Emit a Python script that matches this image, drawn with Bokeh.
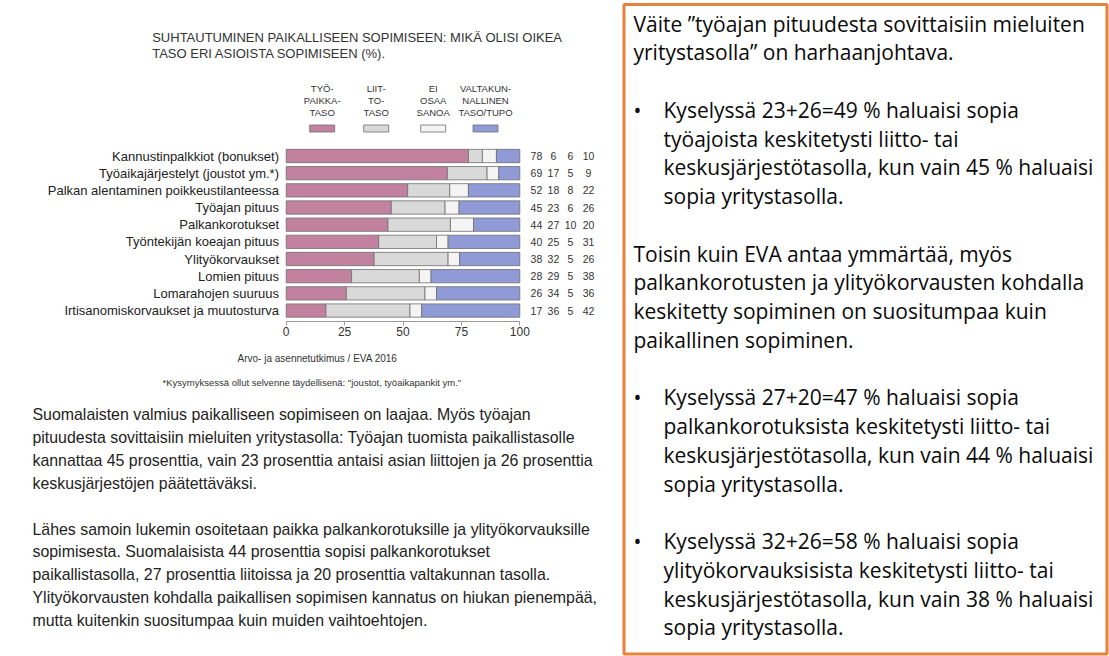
from bokeh.plotting import figure
from bokeh.models import Range1d, FixedTicker, LinearAxis, BoxAnnotation, ColumnDataSource
from bokeh.embed import file_html
from bokeh.resources import INLINE
from bokeh.core.properties import value

# ---------------- data ----------------
categories = [
    "Kannustinpalkkiot (bonukset)",
    "Työaikajärjestelyt (joustot ym.*)",
    "Palkan alentaminen poikkeustilanteessa",
    "Työajan pituus",
    "Palkankorotukset",
    "Työntekijän koeajan pituus",
    "Ylityökorvaukset",
    "Lomien pituus",
    "Lomarahojen suuruus",
    "Irtisanomiskorvaukset ja muutosturva",
]
tyopaikka = [78, 69, 52, 45, 44, 40, 38, 28, 26, 17]
liitto = [6, 17, 18, 23, 27, 25, 32, 29, 34, 36]
ei_osaa = [6, 5, 8, 6, 10, 5, 5, 5, 5, 5]
valtakunnallinen = [10, 9, 22, 26, 20, 31, 26, 38, 36, 42]

series_names = ["tyopaikka", "liitto", "ei_osaa", "valtakunnallinen"]
series_values = [tyopaikka, liitto, ei_osaa, valtakunnallinen]
legend_labels = [
    ["TYÖ-", "PAIKKA-", "TASO"],
    ["LIIT-", "TO-", "TASO"],
    ["EI", "OSAA", "SANOA"],
    ["VALTAKUN-", "NALLINEN", "TASO/TUPO"],
]
x_ticks = [0, 25, 50, 75, 100]

title_lines = [
    "SUHTAUTUMINEN PAIKALLISEEN SOPIMISEEN: MIKÄ OLISI OIKEA",
    "TASO ERI ASIOISTA SOPIMISEEN (%).",
]
source_text = "Arvo- ja asennetutkimus / EVA 2016"
footnote_text = '*Kysymyksessä ollut selvenne täydellisenä: "joustot, työaikapankit ym."'
paragraph_lines = [
    "Suomalaisten valmius paikalliseen sopimiseen on laajaa. Myös työajan",
    "pituudesta sovittaisiin mieluiten yritystasolla: Työajan tuomista paikallistasolle",
    "kannattaa 45 prosenttia, vain 23 prosenttia antaisi asian liittojen ja 26 prosenttia",
    "keskusjärjestöjen päätettäväksi.",
    None,
    "Lähes samoin lukemin osoitetaan paikka palkankorotuksille ja ylityökorvauksille",
    "sopimisesta. Suomalaisista 44 prosenttia sopisi palkankorotukset",
    "paikallistasolla, 27 prosenttia liitoissa ja 20 prosenttia valtakunnan tasolla.",
    "Ylityökorvausten kohdalla paikallisen sopimisen kannatus on hiukan pienempää,",
    "mutta kuitenkin suositumpaa kuin muiden vaihtoehtojen.",
]
# (kind, text): 0 = plain, 1 = bullet start, 2 = bullet continuation, None = blank
box_lines = [
    (0, "Väite \u201dtyöajan pituudesta sovittaisiin mieluiten"),
    (0, "yritystasolla\u201d on harhaanjohtava."),
    (None, ""),
    (1, "Kyselyssä 23+26=49 % haluaisi sopia"),
    (2, "työajoista keskitetysti liitto- tai"),
    (2, "keskusjärjestötasolla, kun vain 45 % haluaisi"),
    (2, "sopia yritystasolla."),
    (None, ""),
    (0, "Toisin kuin EVA antaa ymmärtää, myös"),
    (0, "palkankorotusten ja ylityökorvausten kohdalla"),
    (0, "keskitetty sopiminen on suositumpaa kuin"),
    (0, "paikallinen sopiminen."),
    (None, ""),
    (1, "Kyselyssä 27+20=47 % haluaisi sopia"),
    (2, "palkankorotuksista keskitetysti liitto- tai"),
    (2, "keskusjärjestötasolla, kun vain 44 % haluaisi"),
    (2, "sopia yritystasolla."),
    (None, ""),
    (1, "Kyselyssä 32+26=58 % haluaisi sopia"),
    (2, "ylityökorvauksisista keskitetysti liitto- tai"),
    (2, "keskusjärjestötasolla, kun vain 38 % haluaisi"),
    (2, "sopia yritystasolla."),
]

# ---------------- styles / layout ----------------
colors = ["#C2819F", "#D9D9D9", "#F4F4F4", "#8F9AD6"]
FONT = "Liberation Sans"
TXT = "#222222"
ORANGE = "#E8823A"
W, H = 1109, 656

PX0, PXU = 285.7, 2.336      # pixel of 0 % and pixels per percent
ROW0, ROWH = 155.5, 17.17    # pixel of first row centre and row pitch

totals = [sum(v[i] for v in series_values) for i in range(len(categories))]
data = {"cat": categories, "row": list(range(len(categories)))}
for name, vals in zip(series_names, series_values):
    data[name] = [v / t * 100 for v, t in zip(vals, totals)]
    data[name + "_txt"] = [str(v) for v in vals]
src = ColumnDataSource(data)

p = figure(width=W, height=H, x_range=Range1d(0, W), y_range=Range1d(H, 0),
           x_axis_location=None, y_axis_location=None,
           output_backend="svg", toolbar_location=None, min_border=0)
p.outline_line_color = None
p.grid.visible = False
p.background_fill_color = "white"
p.border_fill_color = "white"

p.extra_x_ranges = {"pct": Range1d(-PX0 / PXU, (W - PX0) / PXU)}
p.extra_y_ranges = {"row": Range1d((H - ROW0) / ROWH, -ROW0 / ROWH)}

p.hbar_stack(series_names, y="row", height=0.775, fill_color=colors,
             line_color="#6E6E6E", line_width=0.8, source=src,
             x_range_name="pct", y_range_name="row")

num_x = [107.1, 114.4, 121.7, 129.4]
for i, name in enumerate(series_names):
    p.text(x=num_x[i], y="row", text=name + "_txt", source=src,
           x_range_name="pct", y_range_name="row",
           text_align="center", text_baseline="middle",
           text_font=value(FONT), text_font_size="10.5px", text_color="#333333")

xa = LinearAxis(x_range_name="pct", fixed_location=321,
                ticker=FixedTicker(ticks=x_ticks), bounds=(0, 100))
xa.axis_line_color = "#9A9A9A"
xa.major_tick_line_color = "#9A9A9A"
xa.minor_tick_line_color = None
xa.major_tick_in = 0
xa.major_tick_out = 4
xa.major_label_standoff = 1
xa.major_label_text_font = FONT
xa.major_label_text_font_size = "12px"
xa.major_label_text_color = "#333333"
p.add_layout(xa, "below")

ya = LinearAxis(y_range_name="row", fixed_location=282.5,
                ticker=FixedTicker(ticks=data["row"]),
                major_label_overrides={i: c for i, c in enumerate(categories)})
ya.axis_line_color = None
ya.major_tick_line_color = None
ya.minor_tick_line_color = None
ya.major_tick_in = 0
ya.major_tick_out = 0
ya.major_label_standoff = 4
ya.major_label_text_font = FONT
ya.major_label_text_font_size = "13px"
ya.major_label_text_color = TXT
p.add_layout(ya, "left")


def txt(x, y, t, size, font=FONT, color=TXT, align="left"):
    p.text(x=[x], y=[y], text=[t], text_font=value(font), text_font_size=f"{size}px",
           text_color=color, text_align=align, text_baseline="middle")


txt(151.7, 36.7, title_lines[0], 13, color="#333333")
txt(151.7, 53.3, title_lines[1], 13, color="#333333")

leg_x = [321.7, 375.7, 432.7, 485.0]
for i, lines in enumerate(legend_labels):
    for j, t in enumerate(lines):
        txt(leg_x[i], 88 + 12 * j, t, 9.5, color="#333333", align="center")
p.quad(left=[x - 12.5 for x in leg_x], right=[x + 12.5 for x in leg_x],
       top=[124.5] * 4, bottom=[131.5] * 4, fill_color=colors,
       line_color="#6E6E6E", line_width=0.8)

txt(317, 358, source_text, 10, color="#333333", align="center")
txt(162, 382, footnote_text, 9.5, color="#333333")

for k, t in enumerate(paragraph_lines):
    if t:
        txt(32, 414 + 22.9 * k, t, 15.9)

# ---------------- right box ----------------
p.add_layout(BoxAnnotation(left=623.5, right=1106.5, top=4, bottom=653.5,
                           fill_alpha=0, line_color=ORANGE, line_alpha=1, line_width=3))

bx, by, bt = [], [], []
for k, (kind, t) in enumerate(box_lines):
    yy = 23 + 28.76 * k
    if kind is None:
        continue
    if kind == 1:
        bx.append(633); by.append(yy); bt.append("\u2022")
    bx.append(633 if kind == 0 else 663); by.append(yy); bt.append(t)
p.text(x=bx, y=by, text=bt, text_font=value("Open Sans"), text_font_size="21px",
       text_baseline="middle", text_color="#0A0A0A")

open("out.html", "w").write(file_html(p, INLINE))
